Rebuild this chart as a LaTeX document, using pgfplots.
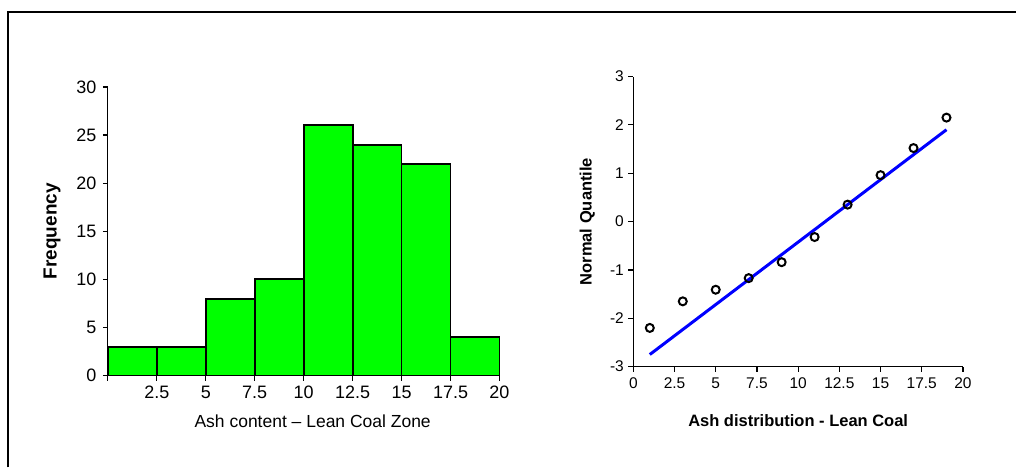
\documentclass[border=0pt]{standalone}
\usepackage{fontspec}
\setmainfont{Liberation Sans}
\usepackage{pgfplots}
\pgfplotsset{compat=1.18}
\begin{document}
\begin{tikzpicture}
\path (0,0) rectangle (1017bp,468bp);
\draw[line width=2.2bp] (8bp,0) -- (8bp,456bp) -- (1017bp,456bp);
% Left histogram
\begin{axis}[
  at={(108bp,92bp)}, anchor=south west,
  scale only axis, width=392bp, height=289bp,
  xmin=0, xmax=20, ymin=0, ymax=30,
  axis lines*=left, axis line style={line width=1.2bp},
  tick align=outside, tick pos=left, major tick length=5bp,
  tick style={line width=1.2bp, black},
  xtick={0,2.5,5,7.5,10,12.5,15,17.5,20},
  xticklabels={,2.5,5,7.5,10,12.5,15,17.5,20},
  ytick={0,5,10,15,20,25,30},
  yticklabels={0,5,10,15,20,25,30},
  ticklabel style={font=\fontsize{18bp}{20bp}\selectfont},
  xticklabel style={yshift=-2bp},
  yticklabel style={xshift=-3bp},
  xlabel={Ash content -- Lean Coal Zone},
  xlabel style={at={(rel axis cs:0.5,0)}, anchor=center, yshift=-46bp, xshift=9bp, font=\fontsize{17.5bp}{20bp}\selectfont},
  ylabel={Frequency},
  ylabel style={at={(rel axis cs:0,0.5)}, anchor=center, yshift=56bp, font=\fontsize{19bp}{22bp}\selectfont\bfseries},
  clip=false,
]
\addplot[ybar interval, fill={rgb,255:red,0;green,255;blue,0}, draw=black, line width=1.8bp]
 coordinates {(0,3) (2.5,3) (5,8) (7.5,10) (10,26) (12.5,24) (15,22) (17.5,4) (20,4)};
\end{axis}
% Right normal quantile plot
\begin{axis}[
  at={(634bp,101bp)}, anchor=south west,
  scale only axis, width=330bp, height=290.4bp,
  xmin=0, xmax=20, ymin=-3, ymax=3,
  axis lines*=left, axis line style={line width=1.2bp},
  tick align=outside, tick pos=left, major tick length=5bp,
  tick style={line width=1.2bp, black},
  xtick={0,2.5,5,7.5,10,12.5,15,17.5,20},
  xticklabels={0,2.5,5,7.5,10,12.5,15,17.5,20},
  ytick={-3,-2,-1,0,1,2,3},
  yticklabels={-3,-2,-1,0,1,2,3},
  ticklabel style={font=\fontsize{15.5bp}{17bp}\selectfont},
  xticklabel style={yshift=-3bp},
  yticklabel style={xshift=-1bp},
  xlabel={Ash distribution - Lean Coal},
  xlabel style={at={(rel axis cs:0.5,0)}, anchor=center, yshift=-54bp, font=\fontsize{16.5bp}{19bp}\selectfont\bfseries},
  ylabel={Normal Quantile},
  ylabel style={at={(rel axis cs:0,0.5)}, anchor=center, yshift=46bp, font=\fontsize{16.5bp}{19bp}\selectfont\bfseries},
  clip=false,
]
\addplot[blue, line width=3bp] coordinates {(1,-2.75) (19,1.9)};
\addplot[only marks, mark=o, mark size=4bp, black, mark options={line width=2bp}]
 coordinates {(1,-2.20) (3,-1.65) (5,-1.41) (7,-1.17) (9,-0.84) (11,-0.32) (13,0.35) (15,0.96) (17,1.52) (19,2.15)};
\end{axis}
\end{tikzpicture}
\end{document}
